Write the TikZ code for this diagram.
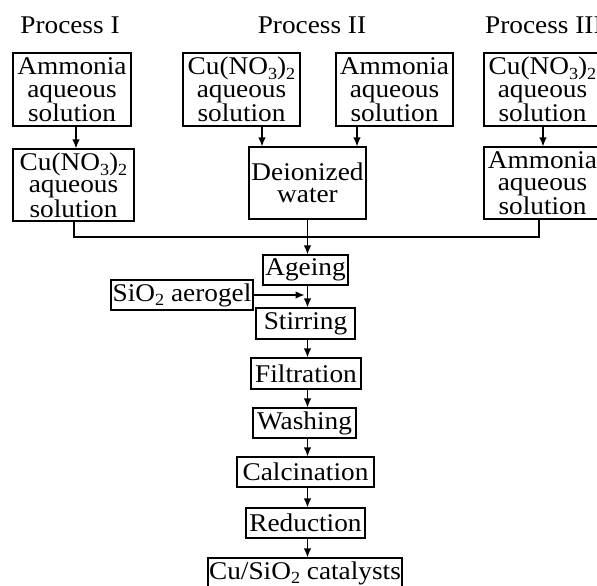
\documentclass[tikz,border=0pt]{standalone}
\usepackage{fontspec}
\setmainfont{Liberation Serif}[FakeStretch=1.07]
\usetikzlibrary{arrows.meta}
\newcommand{\chemsub}[1]{\raisebox{-0.4ex}{\fontsize{17}{17}\selectfont #1}}
\begin{document}
\begin{tikzpicture}[x=1pt,y=-1pt,
  box/.style={draw, line width=1.2pt, inner sep=0pt, align=center,
    font=\fontsize{25.5}{22.5}\selectfont},
  title/.style={inner sep=0pt, anchor=base, font=\fontsize{25.5}{22.5}\selectfont},
  flow/.style={line width=1.2pt},
  arr/.style={flow, -{Latex[length=9pt,width=7.5pt]}}]
\useasboundingbox (0,0) rectangle (597,586);
\clip (0,0) rectangle (597,586);
% titles
\node[title] (t1) at (70,34) {Process I};
\node[title] (t2) at (312,34) {Process II};
\node[title, anchor=base west] (t3) at (485,34) {Process III};
% process I
\node[box, minimum width=118, minimum height=73] (A1) at (72,89.5) {Ammonia\\aqueous\\solution};
\node[box, minimum width=121, minimum height=72] (A2) at (73.5,185) {Cu(NO\chemsub{3})\chemsub{2}\\aqueous\\solution};
% process II
\node[box, minimum width=117, minimum height=73] (B1) at (241.5,89.5) {Cu(NO\chemsub{3})\chemsub{2}\\aqueous\\solution};
\node[box, minimum width=117, minimum height=73] (B2) at (394.5,89.5) {Ammonia\\aqueous\\solution};
\node[box, minimum width=117, minimum height=72] (B3) at (307.5,183) {Deionized\\water};
% process III
\node[box, minimum width=117, minimum height=73] (C1) at (542.5,89.5) {Cu(NO\chemsub{3})\chemsub{2}\\aqueous\\solution};
\node[box, minimum width=117, minimum height=72] (C2) at (542.5,183) {Ammonia\\aqueous\\solution};
% main chain
\node[box, minimum width=85, minimum height=30] (Ag) at (305.5,270) {Ageing};
\node[box, minimum width=142, minimum height=30] (Si) at (182,295) {SiO\chemsub{2} aerogel};
\node[box, minimum width=99, minimum height=31] (St) at (305.5,323.5) {Stirring};
\node[box, minimum width=110, minimum height=31] (Fi) at (306,373.5) {Filtration};
\node[box, minimum width=103, minimum height=30] (Wa) at (304.5,423) {Washing};
\node[box, minimum width=137, minimum height=30] (Ca) at (305.5,472) {Calcination};
\node[box, minimum width=119, minimum height=30] (Re) at (305.5,523) {Reduction};
\node[box, minimum width=194, minimum height=30] (Cu) at (305,573) {Cu/SiO\chemsub{2} catalysts};
% arrows in processes
\coordinate (a1) at (76,0);
\coordinate (b1) at (262,0);
\coordinate (b2) at (357,0);
\coordinate (c1) at (543,0);
\draw[arr] (A1.south -| a1) -- (A2.north -| a1);
\draw[arr] (B1.south -| b1) -- (B3.north -| b1);
\draw[arr] (B2.south -| b2) -- (B3.north -| b2);
\draw[arr] (C1.south -| c1) -- (C2.north -| c1);
% collecting line
\coordinate (L) at (74,237);
\coordinate (R) at (539,237);
\coordinate (sp) at (307.5,0);
\draw[flow] (A2.south -| L) -- (L) -- (R) -- (C2.south -| R);
\draw[arr] (B3.south -| sp) -- (Ag.north -| sp);
\draw[arr] (Ag.south -| sp) -- (St.north -| sp);
\draw[arr, shorten >=3pt] (Si.east) -- (Si.east -| sp);
\draw[arr] (St.south -| sp) -- (Fi.north -| sp);
\draw[arr] (Fi.south -| sp) -- (Wa.north -| sp);
\draw[arr] (Wa.south -| sp) -- (Ca.north -| sp);
\draw[arr] (Ca.south -| sp) -- (Re.north -| sp);
\draw[arr] (Re.south -| sp) -- (Cu.north -| sp);
\end{tikzpicture}
\end{document}
